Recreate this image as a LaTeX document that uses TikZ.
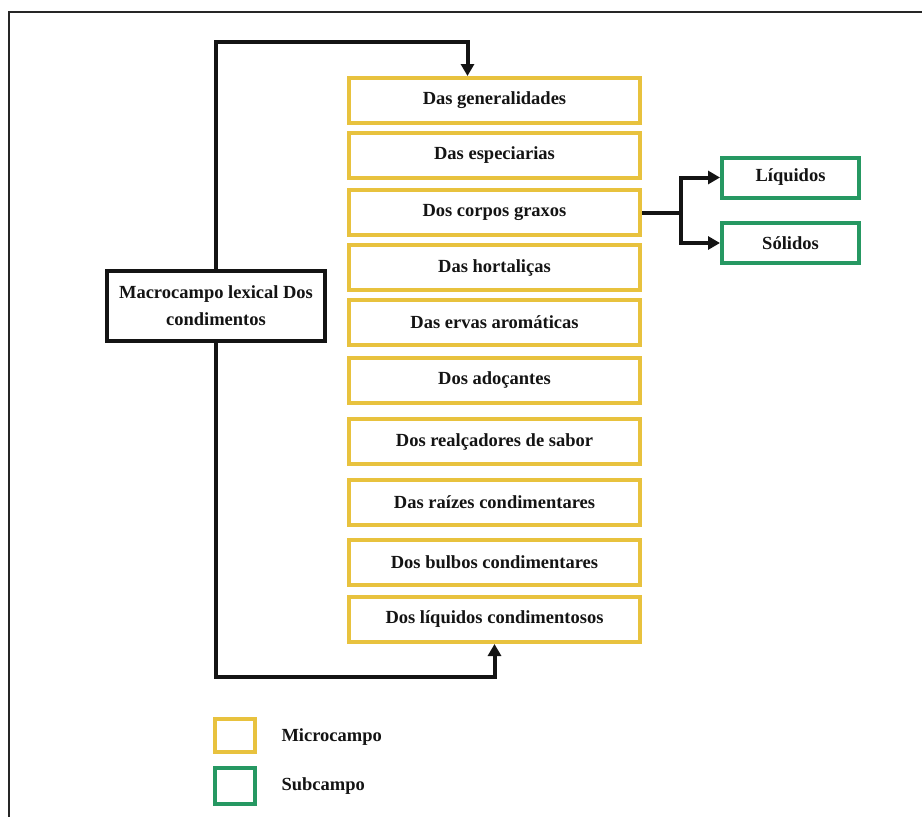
\documentclass[tikz,border=0pt]{standalone}
\usepackage{fontspec}
\setmainfont{Liberation Serif}
\usetikzlibrary{arrows.meta}

\definecolor{microYellow}{RGB}{232,194,62}
\definecolor{subGreen}{RGB}{38,152,98}
\definecolor{inkBlack}{RGB}{20,20,20}

\tikzset{
  every node/.style={font=\bfseries\fontsize{18.5}{27}\selectfont, text=inkBlack},
  microbox/.style={draw=microYellow, line width=4pt, minimum width=291pt,
    minimum height=45pt, inner sep=0pt, fill=white},
  subbox/.style={draw=subGreen, line width=4pt, minimum width=137pt,
    minimum height=40pt, inner sep=0pt, fill=white},
  macrobox/.style={draw=inkBlack, line width=4pt, minimum width=218pt,
    minimum height=70pt, inner sep=0pt, align=center, fill=white},
  conn/.style={draw=inkBlack, line width=4pt},
  tipped/.style={-{Triangle[length=12pt,width=13pt]}},
}

\begin{document}
\begin{tikzpicture}[x=1pt, y=-1pt]
  \useasboundingbox (0,0) rectangle (922,817);
  \fill[white] (0,0) rectangle (922,817);

  % page frame (left and top edges)
  \draw[line width=2pt, black!85] (9,817) -- (9,12) -- (922,12);

  % microcampos
  \node[microbox] (m1)  at (494.5,100.5) {Das generalidades};
  \node[microbox] (m2)  at (494.5,155.5) {Das especiarias};
  \node[microbox] (m3)  at (494.5,212.5) {Dos corpos graxos};
  \node[microbox] (m4)  at (494.5,267.5) {Das hortaliças};
  \node[microbox] (m5)  at (494.5,322.5) {Das ervas aromáticas};
  \node[microbox] (m6)  at (494.5,380)   {Dos adoçantes};
  \node[microbox] (m7)  at (494.5,441.5) {Dos realçadores de sabor};
  \node[microbox] (m8)  at (494.5,502.5) {Das raízes condimentares};
  \node[microbox] (m9)  at (494.5,562.5) {Dos bulbos condimentares};
  \node[microbox] (m10) at (494.5,619.5) {Dos líquidos condimentosos};

  % subcampos
  \node[subbox] (s1) at (790.5,177.5) {Líquidos};
  \node[subbox] (s2) at (790.5,243)   {Sólidos};

  % macrocampo
  \node[macrobox] (macro) at (216,306) {Macrocampo lexical Dos\\condimentos};

  % connectors from the macrocampo
  \coordinate (topbend) at (216,42);
  \coordinate (botbend) at (216,677);
  \draw[conn, tipped] (macro.north) -- (topbend) -| ([xshift=-27pt]m1.north);
  \draw[conn, tipped] (macro.south) -- (botbend) -| (m10.south);

  % fork to the subcampos
  \coordinate (fork) at (681,212.5);
  \draw[conn] (m3.east) -- (fork);
  \draw[conn, tipped] (fork) |- (s1.west);
  \draw[conn, tipped] (fork) |- (s2.west);

  % legend
  \node[draw=microYellow, line width=4pt, minimum width=40pt, minimum height=33pt, inner sep=0pt] (lgY) at (235,735.5) {};
  \node[draw=subGreen, line width=4pt, minimum width=40pt, minimum height=36pt, inner sep=0pt] (lgG) at (235,786) {};
  \node[anchor=west] (lgYtext) at (278,737) {Microcampo};
  \node[anchor=west] (lgGtext) at (278,786) {Subcampo};
\end{tikzpicture}
\end{document}
